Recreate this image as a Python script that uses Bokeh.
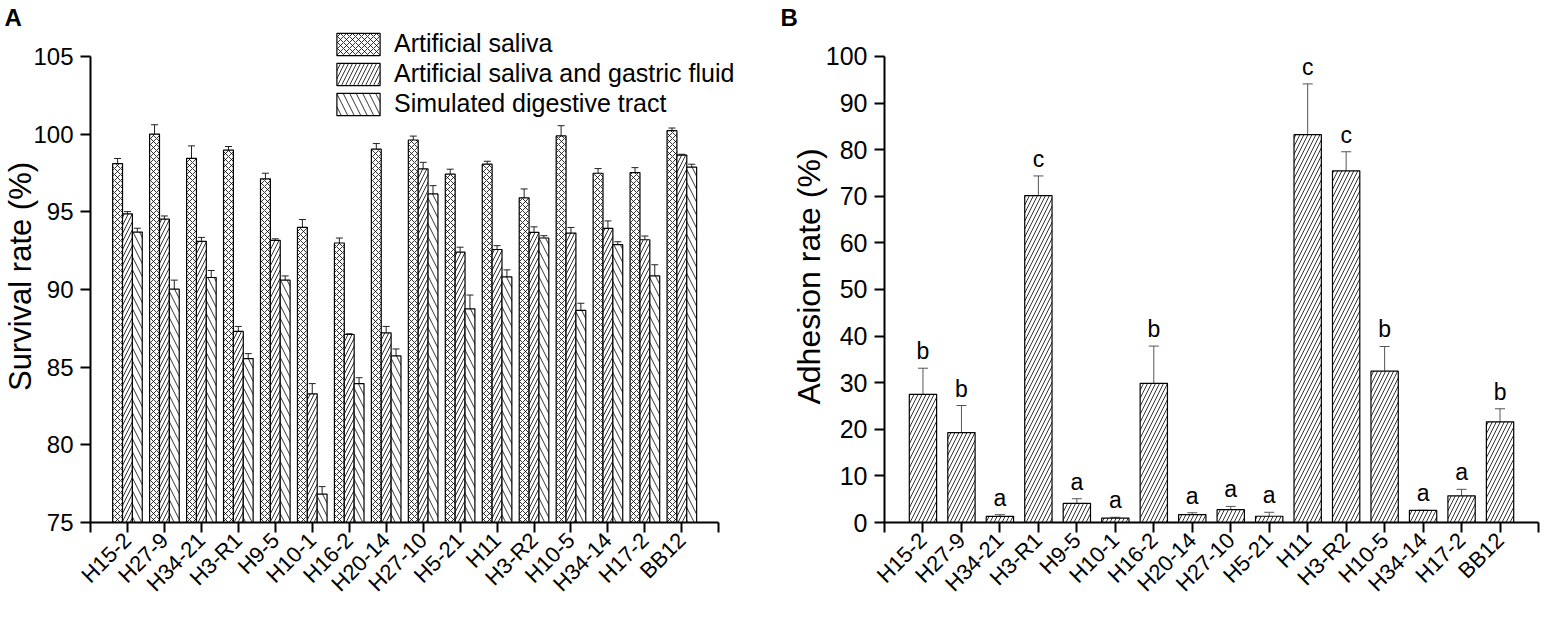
import math
from bokeh.plotting import figure
from bokeh.models import Range1d, FixedTicker, Whisker, ColumnDataSource, Legend, LegendItem, TeeHead
from bokeh.layouts import row
from bokeh.embed import file_html
from bokeh.resources import INLINE
from bokeh.core.properties import value

FONT = "Liberation Sans"

strains = ["H15-2", "H27-9", "H34-21", "H3-R1", "H9-5", "H10-1", "H16-2", "H20-14",
           "H27-10", "H5-21", "H11", "H3-R2", "H10-5", "H34-14", "H17-2", "BB12"]

# Panel A: survival rate (%)
saliva = [98.10, 100.00, 98.44, 98.97, 97.12, 94.00, 92.99, 99.03,
          99.62, 97.42, 98.06, 95.90, 99.88, 97.48, 97.52, 100.22]
saliva_err = [0.33, 0.60, 0.80, 0.23, 0.36, 0.50, 0.32, 0.36,
              0.25, 0.32, 0.19, 0.57, 0.66, 0.30, 0.32, 0.17]
gastric = [94.86, 94.53, 93.10, 87.30, 93.16, 83.28, 87.10, 87.20,
           97.76, 92.40, 92.57, 93.67, 93.63, 93.93, 93.20, 98.65]
gastric_err = [0.15, 0.20, 0.25, 0.32, 0.10, 0.66, 0.05, 0.42,
               0.42, 0.32, 0.25, 0.36, 0.36, 0.48, 0.24, 0.05]
tract = [93.69, 90.02, 90.77, 85.55, 90.60, 76.82, 83.94, 85.72,
         96.15, 88.75, 90.81, 93.31, 88.65, 92.88, 90.87, 97.87]
tract_err = [0.25, 0.58, 0.45, 0.32, 0.27, 0.49, 0.38, 0.45,
             0.53, 0.89, 0.45, 0.15, 0.46, 0.19, 0.72, 0.19]
series_names = ["Artificial saliva", "Artificial saliva and gastric fluid", "Simulated digestive tract"]
y_ticks_a = [75, 80, 85, 90, 95, 100, 105]

# Panel B: adhesion rate (%)
adhesion = [27.50, 19.30, 1.33, 70.15, 4.10, 0.92, 29.85, 1.69,
            2.75, 1.34, 83.20, 75.44, 32.46, 2.60, 5.72, 21.60]
adhesion_err = [5.6, 5.8, 0.35, 4.2, 1.0, 0.2, 8.0, 0.4,
                0.7, 0.85, 10.9, 4.1, 5.3, 0.0, 1.4, 2.8]
letters = ["b", "b", "a", "c", "a", "a", "b", "a",
           "a", "a", "c", "c", "b", "a", "a", "b"]
y_ticks_b = [0, 10, 20, 30, 40, 50, 60, 70, 80, 90, 100]

n = len(strains)
xpos = [i + 1 for i in range(n)]
x_ticks = list(range(n + 2))
overrides = {i + 1: s for i, s in enumerate(strains)}
overrides[0] = ""
overrides[n + 1] = ""

H = 608
TOP = 30          # frame top (px)
BOTTOM = 524      # frame bottom (px)
AXTOP = 56        # pixel of top tick
FRAME_H = BOTTOM - TOP


def style(p, tick_fs, yticks, ylabel, ylabel_fs, ylabel_standoff, panel_letter, letter_offset):
    p.xgrid.visible = False
    p.ygrid.visible = False
    p.outline_line_color = None
    p.background_fill_color = "white"
    p.border_fill_color = "white"
    for ax in (p.xaxis[0], p.yaxis[0]):
        ax.axis_line_width = 2
        ax.axis_line_color = "black"
        ax.major_tick_line_width = 2
        ax.major_tick_line_color = "black"
        ax.major_tick_out = 10
        ax.major_tick_in = 0
        ax.minor_tick_line_color = None
        ax.major_label_text_font = FONT
        ax.major_label_text_color = "black"
    p.xaxis.ticker = FixedTicker(ticks=x_ticks)
    p.xaxis.major_label_overrides = overrides
    p.xaxis.major_label_orientation = math.pi / 4
    p.xaxis.major_label_text_font_size = "22px"
    p.xaxis.major_label_standoff = 4
    p.xaxis.bounds = (x_ticks[0], x_ticks[-1])
    p.yaxis.ticker = FixedTicker(ticks=yticks)
    p.yaxis.major_label_text_font_size = tick_fs
    p.yaxis.major_label_standoff = 7
    p.yaxis.bounds = (yticks[0], yticks[-1])
    p.yaxis.axis_label = ylabel
    p.yaxis.axis_label_text_font = FONT
    p.yaxis.axis_label_text_font_style = "normal"
    p.yaxis.axis_label_text_font_size = ylabel_fs
    p.yaxis.axis_label_text_color = "black"
    p.yaxis.axis_label_standoff = ylabel_standoff
    p.title.text = panel_letter
    p.title.text_font = FONT
    p.title.text_font_style = "bold"
    p.title.text_font_size = "24px"
    p.title.text_color = "black"
    p.title.align = "left"
    p.title.offset = letter_offset
    p.title.standoff = 0


# ---------------- Panel A ----------------
A_W, A_LEFT, A_AXEND = 772, 86, 718   # canvas width, frame left px, px of last x tick
ya0, ya1 = y_ticks_a[0], y_ticks_a[-1]
pA = figure(width=A_W, height=H, output_backend="svg", toolbar_location=None,
            x_range=Range1d(0, (n + 1) * (A_W - A_LEFT) / (A_AXEND - A_LEFT)),
            y_range=Range1d(ya0, ya0 + (ya1 - ya0) * FRAME_H / (BOTTOM - AXTOP)),
            min_border_left=A_LEFT, min_border_right=0, min_border_top=TOP,
            min_border_bottom=H - BOTTOM)
style(pA, "24px", y_ticks_a, "Survival rate (%)", "31px", -8, "A", -86)

bw = 0.267
offsets = [-bw, 0.0, bw]
patterns = ["x", "/", "\\"]
scales = [6, 8, 13]
vals = [saliva, gastric, tract]
errs = [saliva_err, gastric_err, tract_err]
items = []
for k in range(3):
    src = ColumnDataSource(dict(
        x=[x + offsets[k] for x in xpos],
        top=vals[k],
        upper=[v + e for v, e in zip(vals[k], errs[k])],
        lower=[v - e for v, e in zip(vals[k], errs[k])],
    ))
    r = pA.vbar(x="x", top="top", bottom=ya0, width=bw, source=src,
                fill_color="white", line_color="black", line_width=1.2,
                hatch_pattern=patterns[k], hatch_scale=scales[k],
                hatch_color="black", hatch_weight=0.8)
    items.append(LegendItem(label=series_names[k], renderers=[r]))
    w = Whisker(source=src, base="x", upper="upper", lower="lower",
                line_color="#222222", line_width=1,
                upper_head=TeeHead(size=7, line_color="#222222", line_width=1),
                lower_head=TeeHead(size=7, line_color="#222222", line_width=1))
    pA.add_layout(w)

LEG_H = 3 * 28 + 2 * 1
legend = Legend(items=items, location=(241, FRAME_H - LEG_H - 4), orientation="vertical",
                glyph_width=54, glyph_height=28, label_height=28, spacing=1,
                padding=0, margin=0, label_standoff=9,
                label_text_font=FONT, label_text_font_size="25px",
                label_text_color="black", border_line_color=None,
                background_fill_alpha=0)
pA.add_layout(legend)

# ---------------- Panel B ----------------
yb0, yb1 = y_ticks_b[0], y_ticks_b[-1]
pB = figure(width=768, height=H, output_backend="svg", toolbar_location=None,
            x_range=Range1d(0, n + 1),
            y_range=Range1d(yb0, yb0 + (yb1 - yb0) * FRAME_H / (BOTTOM - AXTOP)),
            min_border_left=112, min_border_right=2, min_border_top=TOP,
            min_border_bottom=H - BOTTOM)
style(pB, "25px", y_ticks_b, "Adhesion rate (%)", "32px", -4, "B", -104)

srcB = ColumnDataSource(dict(
    x=xpos,
    top=adhesion,
    upper=[v + e for v, e in zip(adhesion, adhesion_err)],
    lower=[v - e for v, e in zip(adhesion, adhesion_err)],
    letter=letters,
))
pB.vbar(x="x", top="top", bottom=yb0, width=0.71, source=srcB,
        fill_color="white", line_color="black", line_width=1.2,
        hatch_pattern="/", hatch_scale=8, hatch_color="black", hatch_weight=0.8)
pB.add_layout(Whisker(source=srcB, base="x", upper="upper", lower="lower",
                      line_color="#555555", line_width=1,
                      upper_head=TeeHead(size=10, line_color="#555555", line_width=1),
                      lower_head=TeeHead(size=10, line_color="#555555", line_width=1)))
pB.text(x="x", y="upper", text="letter", source=srcB,
        text_align="center", text_baseline="bottom", y_offset=-4,
        text_font=value(FONT), text_font_size="23px", text_color="black")

layout = row(pA, pB, spacing=0)
open("out.html", "w").write(file_html(layout, INLINE))
